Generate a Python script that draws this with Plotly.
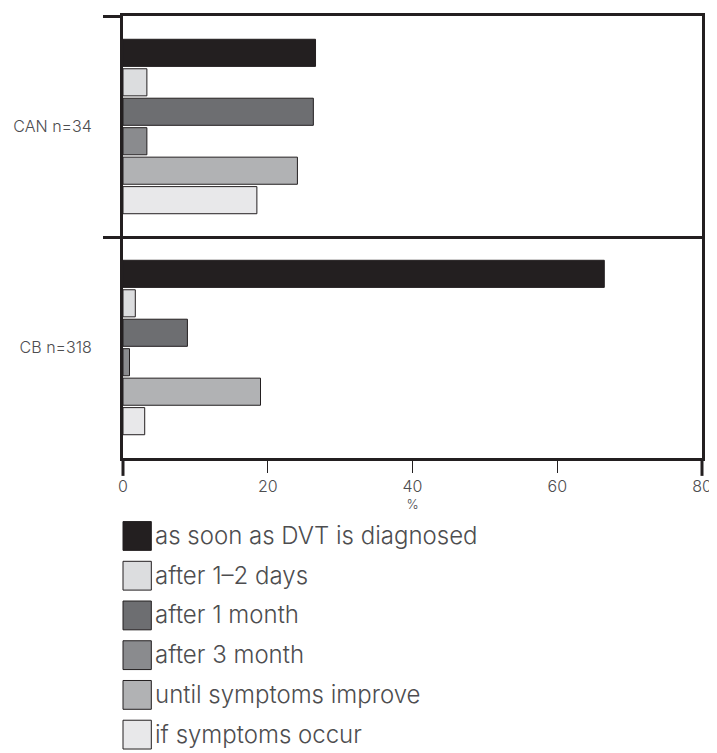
import plotly.graph_objects as go

groups = ["CAN n=34", "CB n=318"]
series = [
    "as soon as DVT is diagnosed",
    "after 1\u20132 days",
    "after 1 month",
    "after 3 month",
    "until symptoms improve",
    "if symptoms occur",
]
values = {
    "as soon as DVT is diagnosed": [26.6, 66.5],
    "after 1\u20132 days": [3.3, 1.7],
    "after 1 month": [26.3, 8.9],
    "after 3 month": [3.3, 0.9],
    "until symptoms improve": [24.1, 19.0],
    "if symptoms occur": [18.5, 3.0],
}
colors = ["#231f20", "#dcdddf", "#6d6e71", "#8a8b8e", "#b1b2b4", "#e8e8ea"]
x_ticks = [0, 20, 40, 60, 80]

INK = "#231f20"
TXT = "#4d4d4f"
FONT = "Inter, DejaVu Sans, sans-serif"
WT = 300

# page is offset by the default 8px body margin
OFF = 8
W, H = 709, 745
ML, MR, MT, MB = 107, 9, 5, 295
PW, PH = W - ML - MR, H - MT - MB

fig = go.Figure()
for name, col in zip(series, colors):
    fig.add_trace(go.Bar(
        y=groups, x=values[name], name=name, orientation="h",
        marker=dict(color=col, line=dict(color=INK, width=1)),
        showlegend=False,
    ))

def px_x(p):
    return (p - OFF - ML) / PW

def px_y(p):
    return (H - MB - (p - OFF)) / PH

shapes = []
annotations = []
for i, (name, col) in enumerate(zip(series, colors)):
    top = 522 + i * 40
    shapes.append(dict(type="rect", xref="paper", yref="paper",
                       x0=px_x(115), x1=px_x(144), y0=px_y(top), y1=px_y(top + 29),
                       fillcolor=col, line=dict(color=INK, width=1)))
    annotations.append(dict(xref="paper", yref="paper", x=px_x(146), y=px_y(top + 14),
                            xanchor="left", yanchor="middle", showarrow=False,
                            text=name, font=dict(family=FONT, size=24, color=TXT, weight=WT)))

# heavier extension of the frame's vertical edges below the x axis
for xv in (0, 1):
    shapes.append(dict(type="line", xref="paper", yref="paper", x0=xv, x1=xv,
                       y0=0, y1=px_y(476), line=dict(color=INK, width=3)))

fig.update_layout(
    width=W, height=H,
    margin=dict(l=ML, r=MR, t=MT, b=MB),
    paper_bgcolor="white", plot_bgcolor="white",
    barmode="group", bargap=0.2, bargroupgap=0.08,
    showlegend=False,
    shapes=shapes, annotations=annotations,
    font=dict(family=FONT, color=TXT, weight=WT),
    xaxis=dict(
        range=[x_ticks[0], x_ticks[-1]], tickvals=x_ticks, ticks="outside", ticklen=12, tickwidth=1.3,
        tickcolor=INK, showline=True, linewidth=3, linecolor=INK, mirror=True,
        showgrid=False, zeroline=False, ticklabeloverflow="allow",
        tickfont=dict(family=FONT, size=16, color=TXT, weight=WT),
        title=dict(text="%", font=dict(family=FONT, size=13, color=TXT, weight=WT), standoff=0),
    ),
    yaxis=dict(
        type="category", categoryorder="array", categoryarray=groups, autorange="reversed",
        tickson="boundaries", ticks="outside", ticklen=17, tickwidth=3, tickcolor=INK,
        showgrid=True, gridcolor=INK, gridwidth=2.5,
        showline=True, linewidth=3, linecolor=INK, mirror=True,
        ticklabelstandoff=25,
        tickfont=dict(family=FONT, size=16, color=TXT, weight=WT),
    ),
)

fig.write_html("out.html")
